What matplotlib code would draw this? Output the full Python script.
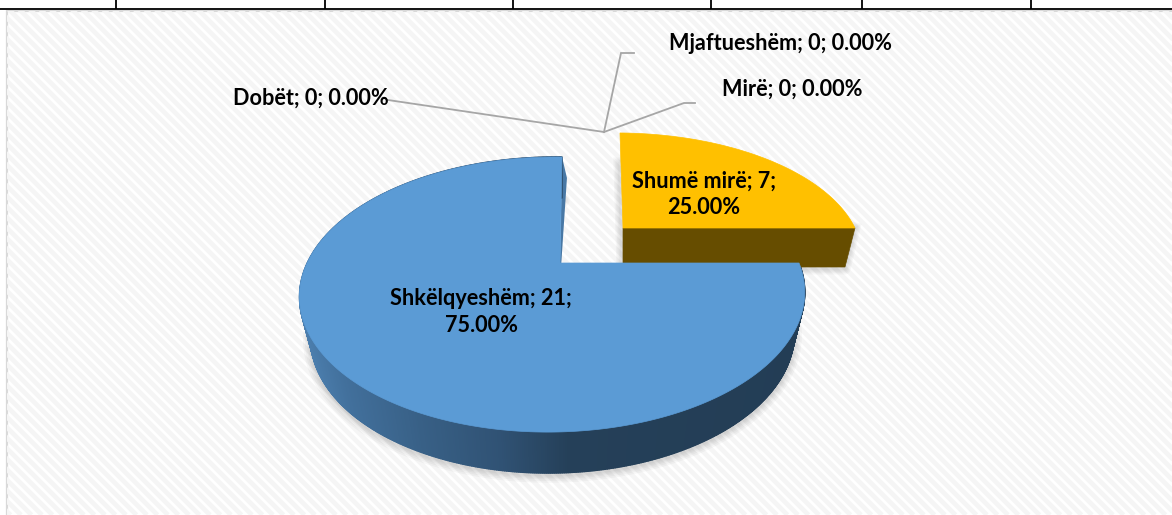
import numpy as np
import matplotlib
matplotlib.use("Agg")
import matplotlib.pyplot as plt
from matplotlib.collections import PolyCollection
from matplotlib.patches import Rectangle, Polygon

categories = ["Shkëlqyeshëm", "Shumë mirë", "Mirë", "Mjaftueshëm", "Dobët"]
values = [21, 7, 0, 0, 0]
table_ticks = [116, 325, 513, 711, 862, 1031]

W, H = 1172, 515
fig = plt.figure(figsize=(W / 100, H / 100), dpi=100)
ax = fig.add_axes([0, 0, 1, 1])
ax.set_xlim(0, W)
ax.set_ylim(H, 0)
ax.axis("off")
FONT = "Lato"

# chart area with faint diagonal stripes
area = Rectangle((6.5, 10.5), W, H, fc="white", ec="#d9d9d9", lw=1.6, zorder=1)
ax.add_patch(area)
for c in np.arange(-H, W + H, 10.5):
    ln, = ax.plot([c, c + H], [0, H], color="#f5f5f5", lw=3.4, zorder=1.1, solid_capstyle="butt")
    ln.set_clip_path(area)

# table remnants at the top
ax.plot([0, W], [8.5, 8.5], color="black", lw=1.3, zorder=2)
ax.vlines(table_ticks, 0, 8.5, color="black", lw=1.3, zorder=2)


def project(t, geo):
    u, v = np.cos(t), np.sin(t)
    w = 1 + geo["k"] * v + geo["m"] * u
    return (geo["cx"] + (geo["a"] * u + geo["s"] * v) / w,
            geo["cy"] - geo["b"] * v / w)


def lower(x, y, geo):
    return geo["cx"] + (x - geo["cx"]) * geo["shrink"], y + geo["depth"]


def lerp_color(x):
    stops_x = [300, 345, 420, 500, 570, 810]
    stops_c = np.array([[0x4d, 0x80, 0xb0], [0x42, 0x70, 0x9c], [0x38, 0x60, 0x86],
                        [0x30, 0x52, 0x74], [0x25, 0x40, 0x59], [0x23, 0x3d, 0x55]]) / 255
    return [np.interp(x, stops_x, stops_c[:, i]) for i in range(3)]


blue_geo = dict(cx=560, cy=263, a=245.7, b=130.3, k=0.229, m=0.028, s=2.5, shrink=0.957, depth=41)
yellow_geo = dict(cx=623, cy=228, a=236.6, b=116.8, k=0.229, m=0.02, s=-3.7, shrink=0.957, depth=39)

total = sum(values)
t0 = np.pi / 2
slices = []
for val in values:
    sweep = 2 * np.pi * val / total
    slices.append((t0, t0 + sweep))
    t0 += sweep

# --- blue slice
t_b = np.linspace(*slices[0], 720)
bx, by = project(t_b, blue_geo)
lx, ly = lower(bx, by, blue_geo)

# soft shadow round the lower rim
for lw in [11, 8.5, 6, 4, 2]:
    ax.plot(lx, ly + 2, color="black", alpha=0.03, lw=lw, zorder=2.5, solid_capstyle="round")

apex = (blue_geo["cx"], blue_geo["cy"])
ax.add_patch(Polygon([apex, (bx[0], by[0]), (lx[0] + 5, ly[0] - 20), (apex[0], apex[1] + 20)],
                     fc="#4878a5", ec="none", zorder=3))
quads, cols = [], []
for i in range(len(t_b) - 1):
    quads.append([(bx[i], by[i]), (bx[i + 1], by[i + 1]), (lx[i + 1], ly[i + 1]), (lx[i], ly[i])])
    cols.append(lerp_color((bx[i] + bx[i + 1]) / 2))
ax.add_collection(PolyCollection(quads, facecolors=cols, edgecolors=cols, linewidths=1.0, zorder=3))
ax.add_patch(Polygon(np.r_[np.c_[bx, by], [apex]], fc="#5b9bd5", ec="#5b9bd5", lw=0.5, zorder=4))

# --- yellow slice
t_y = np.linspace(*slices[1], 120)
yx, yy = project(t_y, yellow_geo)
ylx, yly = lower(yx, yy, yellow_geo)
y_apex = (yellow_geo["cx"], yellow_geo["cy"])
y_low = lower(y_apex[0], y_apex[1], yellow_geo)
for lw in [8, 6, 4, 2]:
    ax.plot([y_low[0], ylx[0], yx[0]], [y_low[1] + 2, yly[0] + 2, yy[0]], color="black",
            alpha=0.03, lw=lw, zorder=2.5)
    ax.plot([y_apex[0] - 1, yx[-1] - 1], [y_low[1], yy[-1] + 30], color="black", alpha=0.03, lw=lw, zorder=2.5)
ax.add_patch(Polygon([y_apex, (yx[0], yy[0]), (ylx[0], yly[0]), y_low],
                     fc="#664d00", ec="#664d00", lw=0.5, zorder=3))
ax.add_patch(Polygon(np.r_[np.c_[yx, yy], [y_apex]], fc="#ffc000", ec="#ffc000", lw=0.5, zorder=3.5))

# --- leader lines
hub = (604, 132)
for xs, ys in [((388, hub[0]), (100, hub[1])),
               ((hub[0], 621, 634), (hub[1], 53, 53)),
               ((hub[0], 684, 695), (hub[1], 103, 103))]:
    ax.plot(xs, ys, color="#a6a6a6", lw=1.3, zorder=3, solid_joinstyle="miter")

# --- labels
pct = [100 * v / total for v in values]


def lab(i, sep=" "):
    return f"{categories[i]}; {values[i]};{sep}{pct[i]:.2f}%"


style = dict(fontfamily=FONT, fontweight="bold", fontsize=15.6, color="black",
             va="center", zorder=6, linespacing=1.3)
ax.text(481, 312, lab(0, "\n"), ha="center", **style)
ax.text(704, 194, lab(1, "\n"), ha="center", **style)
ax.text(862, 89, lab(2), ha="right", **style)
ax.text(892, 43, lab(3), ha="right", **style)
ax.text(389, 98, lab(4), ha="right", **style)

fig.savefig("out.png", dpi=100)
